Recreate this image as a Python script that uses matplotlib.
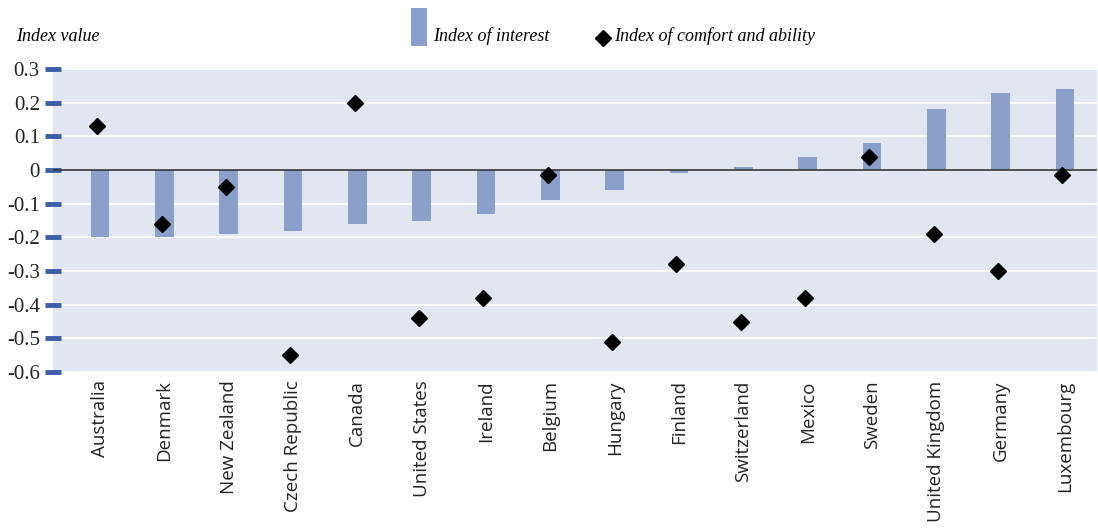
import numpy as np
import matplotlib.pyplot as plt
from matplotlib.patches import Rectangle
from matplotlib.lines import Line2D

countries = ["Australia", "Denmark", "New Zealand", "Czech Republic", "Canada",
             "United States", "Ireland", "Belgium", "Hungary", "Finland",
             "Switzerland", "Mexico", "Sweden", "United Kingdom", "Germany",
             "Luxembourg"]
interest = [-0.20, -0.20, -0.19, -0.18, -0.16, -0.15, -0.13, -0.09, -0.06,
            -0.01, 0.01, 0.04, 0.08, 0.18, 0.23, 0.24]
comfort = [0.13, -0.16, -0.05, -0.55, 0.20, -0.44, -0.38, -0.015, -0.51,
           -0.28, -0.45, -0.38, 0.04, -0.19, -0.30, -0.015]
yticks = [0.3, 0.2, 0.1, 0, -0.1, -0.2, -0.3, -0.4, -0.5, -0.6]

bar_col = "#8a9fca"
bg_col = "#e1e6f1"

fig = plt.figure(figsize=(10.98, 5.31), dpi=100)
ax = fig.add_axes([0.0483, 0.2994, 0.951, 0.5706])
ax.set_facecolor(bg_col)

x = np.arange(len(countries))
ax.bar(x, interest, width=0.29, color=bar_col, zorder=2)
ax.plot(x - 0.04, comfort, linestyle="none", marker="D", markersize=8.5,
        color="black", zorder=3)

ax.set_xlim(-0.73, len(countries) - 0.5)
ax.set_ylim(-0.6, 0.3)
ax.set_yticks(yticks)
ax.set_yticklabels(["0.3", "0.2", "0.1", "0", "-0.1", "-0.2", "-0.3", "-0.4",
                    "-0.5", "-0.6"], family="Liberation Serif", fontsize=15,
                   color="#222222")
ax.grid(axis="y", color="white", linewidth=1.3, zorder=1)
ax.axhline(0, color="#333333", linewidth=1.2, zorder=2.5)
ax.set_axisbelow(True)

ax.tick_params(axis="y", length=11, width=3.5, color="#3a5ea8", pad=4,
               direction="inout")
ax.get_yticklines()[6].set_color("black")
ax.get_yticklines()[7].set_color("black")
ax.set_xticks(x)
ax.set_xticklabels(countries, rotation=90, fontsize=13.5, family="Open Sans",
                   color="#222222")
ax.tick_params(axis="x", length=0, pad=6)
for s in ax.spines.values():
    s.set_visible(False)

# y-axis title and legend
fig.text(0.015, 0.915, "Index value", style="italic", family="Liberation Serif",
         fontsize=13, ha="left", va="bottom")
fig.add_artist(Rectangle((0.3745, 0.913), 0.0145, 0.072, transform=fig.transFigure,
                         facecolor=bar_col, edgecolor="none"))
fig.text(0.394, 0.915, "Index of interest", style="italic",
         family="Liberation Serif", fontsize=13, ha="left", va="bottom")
fig.add_artist(Line2D([0.5495], [0.928], transform=fig.transFigure, marker="D",
                      markersize=8, color="black", linestyle="none"))
fig.text(0.559, 0.915, "Index of comfort and ability", style="italic",
         family="Liberation Serif", fontsize=13, ha="left", va="bottom")

fig.savefig("out.png", dpi=100)
